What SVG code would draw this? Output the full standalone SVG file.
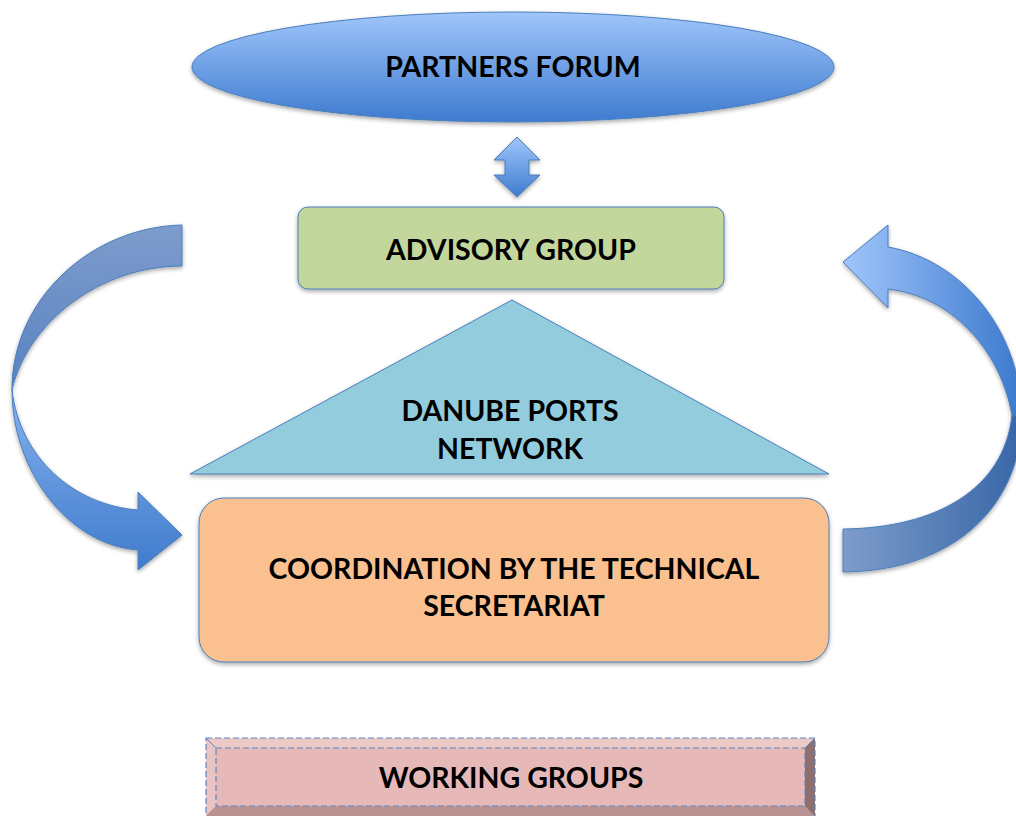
<svg xmlns="http://www.w3.org/2000/svg" width="1016" height="816" viewBox="0 0 1016 816">
  <defs>
    <linearGradient id="gBlueV" x1="0" y1="0" x2="0" y2="1">
      <stop offset="0" stop-color="#a0c6fb"/>
      <stop offset="1" stop-color="#3e7bcf"/>
    </linearGradient>
    <linearGradient id="gLeftBack" gradientUnits="userSpaceOnUse" x1="0" y1="225" x2="0" y2="390">
      <stop offset="0" stop-color="#7d9ccd"/>
      <stop offset="1" stop-color="#5a82c0"/>
    </linearGradient>
    <linearGradient id="gLeftFront" gradientUnits="userSpaceOnUse" x1="0" y1="390" x2="0" y2="570">
      <stop offset="0" stop-color="#86b1ee"/>
      <stop offset="1" stop-color="#3f7bcc"/>
    </linearGradient>
    <linearGradient id="gRightFront" gradientUnits="userSpaceOnUse" x1="843" y1="0" x2="1016" y2="0">
      <stop offset="0" stop-color="#a0c6fb"/>
      <stop offset="1" stop-color="#3e7bcf"/>
    </linearGradient>
    <linearGradient id="gRightBack" gradientUnits="userSpaceOnUse" x1="843" y1="0" x2="1016" y2="0">
      <stop offset="0" stop-color="#7d9ccc"/>
      <stop offset="1" stop-color="#3a68a8"/>
    </linearGradient>
    <filter id="shadow" x="-10%" y="-10%" width="120%" height="130%">
      <feDropShadow dx="0" dy="2" stdDeviation="2" flood-color="#000" flood-opacity="0.35"/>
    </filter>
  </defs>
  <style>
    .lbl { font-family: Lato, "Liberation Sans", sans-serif; font-weight: bold; font-size: 28.5px; fill: #000; text-anchor: middle; }
    .edge { stroke: #4a7ebb; stroke-width: 1; stroke-linejoin: miter; }
  </style>

  <rect x="0" y="0" width="1016" height="816" fill="#ffffff"/>

  <!-- connectors -->
  <g id="connectors">
    <!-- two-way arrow between forum and advisory group -->
    <path class="edge" fill="url(#gBlueV)" filter="url(#shadow)"
          d="M517,137 L540,160 L529,160 L529,175 L540,175 L517,197 L494,175 L505,175 L505,160 L494,160 Z"/>
    <!-- left curved arrow, down into the coordination box -->
    <g id="arrow-left" filter="url(#shadow)">
      <path class="edge" fill="url(#gLeftBack)"
            d="M182,225 C92,227 12,298 12,390 C28,322 100,266 182,266 Z"/>
      <path class="edge" fill="url(#gLeftFront)"
            d="M12,390 C12,470 68,545 138,550 L138,570 L182,535 L138,492 L138,510 C74,505 20,458 12,390 Z"/>
    </g>
    <!-- right curved arrow, up to the advisory group -->
    <g id="arrow-right" filter="url(#shadow)">
      <path class="edge" fill="url(#gRightBack)"
            d="M1012,415 C1004,490 935,528 843,529 L843,572 C955,571 1022,505 1022,415 Z"/>
      <path class="edge" fill="url(#gRightFront)"
            d="M888,247 C962,260 1020,330 1022,415 L1012,415 C1000,348 950,296 888,289 L888,308 L843,262 L888,225 Z"/>
    </g>
  </g>

  <!-- Partners forum -->
  <g id="partners-forum">
    <ellipse cx="513" cy="67" rx="321" ry="55" fill="url(#gBlueV)" stroke="#4a7ebb" stroke-width="1" filter="url(#shadow)"/>
    <text class="lbl" x="513" y="77">PARTNERS FORUM</text>
  </g>

  <!-- Advisory group -->
  <g id="advisory-group">
    <rect x="298" y="207" width="426" height="82" rx="10" ry="10" fill="#c3d69b" stroke="#4a7ebb" stroke-width="1" filter="url(#shadow)"/>
    <text class="lbl" x="511" y="260">ADVISORY GROUP</text>
  </g>

  <!-- Danube ports network -->
  <g id="danube-ports-network">
    <path d="M512,300 L829,474 L190,474 Z" fill="#93cddd" stroke="#4a7ebb" stroke-width="1" filter="url(#shadow)"/>
    <text class="lbl" x="510" y="421">DANUBE PORTS</text>
    <text class="lbl" x="510" y="459">NETWORK</text>
  </g>

  <!-- Coordination by the technical secretariat -->
  <g id="technical-secretariat">
    <rect x="199" y="498" width="630" height="164" rx="25" ry="25" fill="#fac090" stroke="#4a7ebb" stroke-width="1" filter="url(#shadow)"/>
    <text class="lbl" x="514" y="579">COORDINATION BY THE TECHNICAL</text>
    <text class="lbl" x="514" y="616">SECRETARIAT</text>
  </g>

  <!-- Working groups (bevelled panel) -->
  <g id="working-groups">
    <rect x="206" y="738" width="609" height="90" fill="#e6b9b8"/>
    <polygon points="206,738 815,738 805,748 216,748" fill="#ecc8c7"/>
    <polygon points="206,738 216,748 216,806 206,816" fill="#eac4c3"/>
    <polygon points="815,738 815,828 805,806 805,748" fill="#8e6f6e"/>
    <polygon points="216,806 805,806 815,816 206,816" fill="#b89392"/>
    <rect x="206" y="738" width="609" height="90" fill="none" stroke="#5b86c4" stroke-width="1.2" stroke-dasharray="6,3"/>
    <rect x="216" y="748" width="589" height="58" fill="none" stroke="#5b86c4" stroke-width="1.2" stroke-dasharray="6,3"/>
    <line x1="206" y1="738" x2="216" y2="748" stroke="#5b86c4" stroke-width="1"/>
    <line x1="815" y1="738" x2="805" y2="748" stroke="#5b86c4" stroke-width="1"/>
    <text class="lbl" x="511" y="788">WORKING GROUPS</text>
  </g>
</svg>
